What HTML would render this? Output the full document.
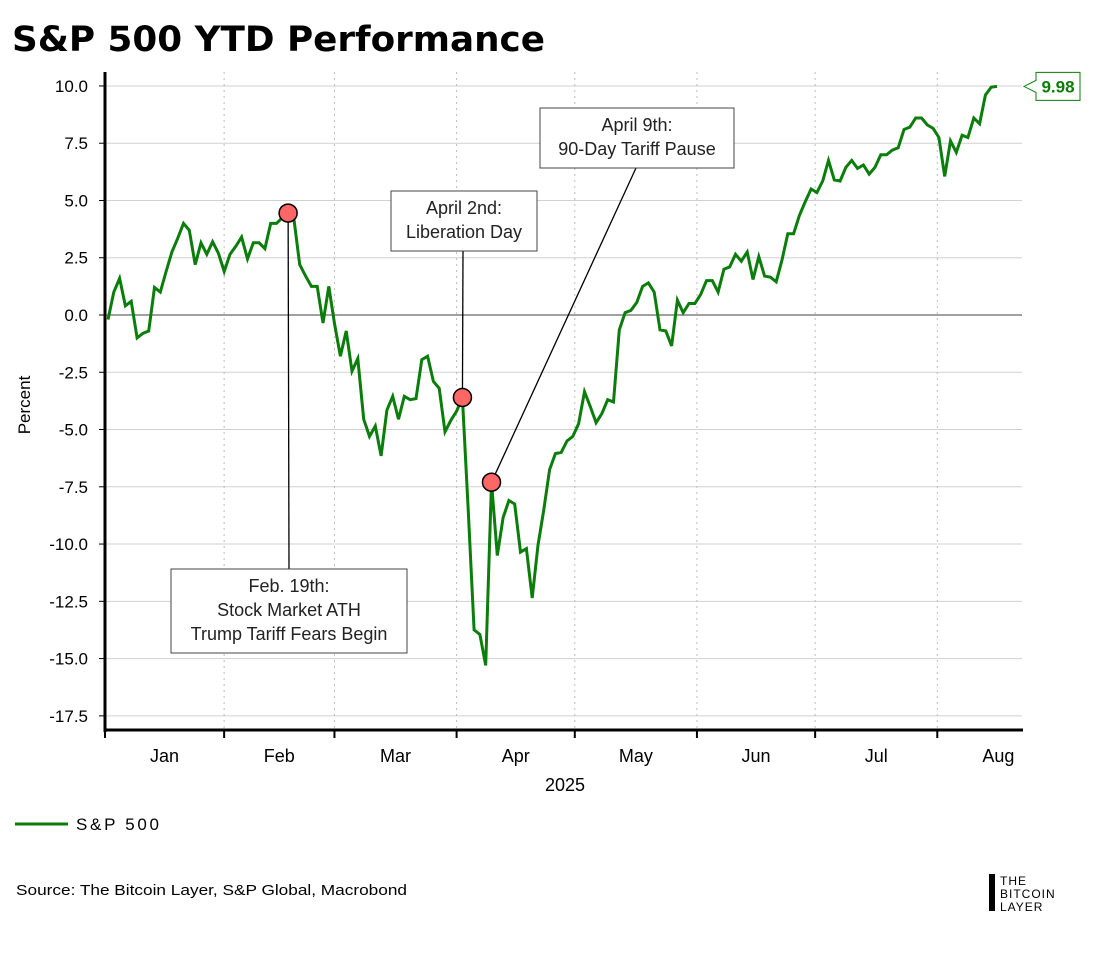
<!DOCTYPE html>
<html><head><meta charset="utf-8"><style>
body{margin:0;background:#fff;width:1100px;height:953px;overflow:hidden;font-family:"Liberation Sans",sans-serif}
</style></head><body>
<svg id="c" width="1100" height="953" xmlns="http://www.w3.org/2000/svg" font-family="Liberation Sans, sans-serif">
<text x="12" y="51" font-size="35" font-weight="bold" font-family="DejaVu Sans, sans-serif" textLength="533" lengthAdjust="spacingAndGlyphs" fill="#000">S&amp;P 500 YTD Performance</text>
<g id="grid"></g>
<g id="yt"></g>
<g id="xt"></g>
<text x="30" y="405" font-size="17" text-anchor="middle" transform="rotate(-90 30 405)">Percent</text>
<text x="565" y="791" font-size="18" text-anchor="middle">2025</text>
<g id="series"></g>
<g id="ann"></g>
<line x1="105" y1="72" x2="105" y2="732" stroke="#000" stroke-width="3"/>
<line x1="104" y1="730" x2="1023" y2="730" stroke="#000" stroke-width="3"/>
<g>
<line x1="15" y1="824" x2="68" y2="824" stroke="#0a7d0a" stroke-width="3"/>
<text x="76" y="830" font-size="17" textLength="83">S&amp;P 500</text></g>
<text x="16" y="895" font-size="15" textLength="391" lengthAdjust="spacingAndGlyphs">Source: The Bitcoin Layer, S&amp;P Global, Macrobond</text>
<g>
<rect x="989" y="874" width="6" height="37" fill="#000"/>
<text x="1000" y="885" font-size="12" letter-spacing="1">THE</text>
<text x="1000" y="898" font-size="12" letter-spacing="1">BITCOIN</text>
<text x="1000" y="911" font-size="12" letter-spacing="1">LAYER</text></g>
</svg>
<script>
const values=[-0.2,1.0,1.6,0.4,0.6,-1.0,-0.8,-0.7,1.2,1.0,1.9,2.75,3.35,4.0,3.7,2.2,3.15,2.65,3.2,2.7,1.9,2.65,3.0,3.4,2.45,3.15,3.15,2.9,4.0,4.0,4.25,4.45,4.2,2.2,1.7,1.25,1.25,-0.35,1.25,-0.4,-1.8,-0.7,-2.45,-1.9,-4.55,-5.3,-4.85,-6.15,-4.15,-3.55,-4.55,-3.55,-3.7,-3.65,-1.95,-1.8,-2.9,-3.2,-5.1,-4.6,-4.2,-3.6,
-8.5,-13.75,-13.95,-15.3,-7.3,-10.5,-8.85,-8.1,-8.25,-10.35,-10.2,-12.35,-10.05,-8.5,-6.75,-6.05,-6.0,-5.5,-5.3,-4.75,-3.35,-4.0,-4.7,-4.3,-3.7,-3.8,-0.65,0.1,0.2,0.55,1.25,1.4,1.0,-0.65,-0.7,-1.35,0.65,0.1,0.5,0.5,0.9,1.5,1.5,1.0,2.0,
2.1,2.65,2.35,2.75,1.55,2.55,1.7,1.65,1.45,2.4,3.55,3.55,4.35,4.95,5.5,5.35,5.85,6.75,5.9,5.85,6.45,6.75,6.4,6.55,6.15,6.45,7.0,7.0,7.2,7.3,8.1,8.2,8.6,8.6,8.3,8.15,7.75,6.05,7.6,7.1,7.85,7.75,8.6,8.35,9.6,9.95,9.98];
const yTicks=[10,7.5,5,2.5,0,-2.5,-5,-7.5,-10,-12.5,-15,-17.5];
const monthNames=["Jan","Feb","Mar","Apr","May","Jun","Jul","Aug"];
const monthStartDays=[0,31,59,90,120,151,181,212];
const annIdx=[31,61,66];
const annText=[["Feb. 19th:","Stock Market ATH","Trump Tariff Fears Begin"],["April 2nd:","Liberation Day"],["April 9th:","90-Day Tariff Pause"]];
const NS="http://www.w3.org/2000/svg";
const y=v=>315-v*22.905;
const xi=i=>108+i*(997-108)/(values.length-1);
const xd=d=>102+d*3.94;
function mk(p,t,a){const e=document.createElementNS(NS,t);for(const k in a)e.setAttribute(k,a[k]);p.appendChild(e);return e;}
const grid=document.getElementById('grid'),yt=document.getElementById('yt'),xt=document.getElementById('xt');
yTicks.forEach(v=>{
 const l=mk(grid,'line',{x1:105,x2:1022,y1:y(v),y2:y(v),stroke:v===0?'#a0a0a0':'#d0d0d0','stroke-width':v===0?2:1});
 
 
 const t=mk(yt,'text',{x:88,y:y(v)+6,'font-size':17,'text-anchor':'end'});t.textContent=v.toFixed(1);
 
 
 mk(yt,'line',{x1:99,x2:105,y1:y(v),y2:y(v),stroke:'#000'});
});
monthStartDays.forEach((d,i)=>{
 const x=i===0?105:xd(d);
 if(i>0){const g=mk(grid,'line',{x1:x,x2:x,y1:72,y2:729,stroke:'#bbb','stroke-dasharray':'2,4'});
 
 }
 mk(xt,'line',{x1:x,x2:x,y1:730,y2:738,stroke:'#000','stroke-width':2});
 const end=i<7?xd(monthStartDays[i+1]):xd(d+31);
 const t=mk(xt,'text',{x:(x+end)/2,y:762,'font-size':18,'text-anchor':'middle'});t.textContent=monthNames[i];
 
 
});
const s=document.getElementById('series');
const pl=mk(s,'polyline',{points:values.map((v,i)=>xi(i).toFixed(1)+','+y(v).toFixed(1)).join(' '),fill:'none',stroke:'#0a7d0a','stroke-width':3,'stroke-linejoin':'miter'});


const last=values[values.length-1],ly=y(last);
const lab=mk(s,'path',{d:`M1024 ${ly} L1036 ${ly-6} L1036 ${ly-14} L1080 ${ly-14} L1080 ${ly+14} L1036 ${ly+14} L1036 ${ly+6} Z`,fill:'#fff',stroke:'#0a7d0a','stroke-width':1});


const lt=mk(s,'text',{x:1058,y:ly+6,'font-size':17,'font-weight':'bold',fill:'#0a7d0a','text-anchor':'middle'});lt.textContent=last.toFixed(2);


const ann=document.getElementById('ann');
const boxes=[{x:171,y:569,w:236,h:84,lx:289,ly:569},{x:391,y:191,w:146,h:60,lx:463,ly:251},{x:540,y:108,w:194,h:60,lx:636,ly:168}];
annIdx.forEach((idx,k)=>{
 const cx=xi(idx),cy=y(values[idx]),b=boxes[k];
 mk(ann,'line',{x1:cx,y1:cy,x2:b.lx,y2:b.ly,stroke:'#000','stroke-width':1.3});
 const r=mk(ann,'rect',{x:b.x,y:b.y,width:b.w,height:b.h,fill:'#fff',stroke:'#444','stroke-width':1});
 
 
 annText[k].forEach((ln,j)=>{const t=mk(ann,'text',{x:b.x+b.w/2,y:b.y+23+j*24,'font-size':18,'text-anchor':'middle',fill:'#222'});t.textContent=ln;
 
 });
 const c=mk(ann,'circle',{cx:cx,cy:cy,r:9,fill:'#f66',stroke:'#000','stroke-width':1.5});
 
 
});
</script>
</body></html>
